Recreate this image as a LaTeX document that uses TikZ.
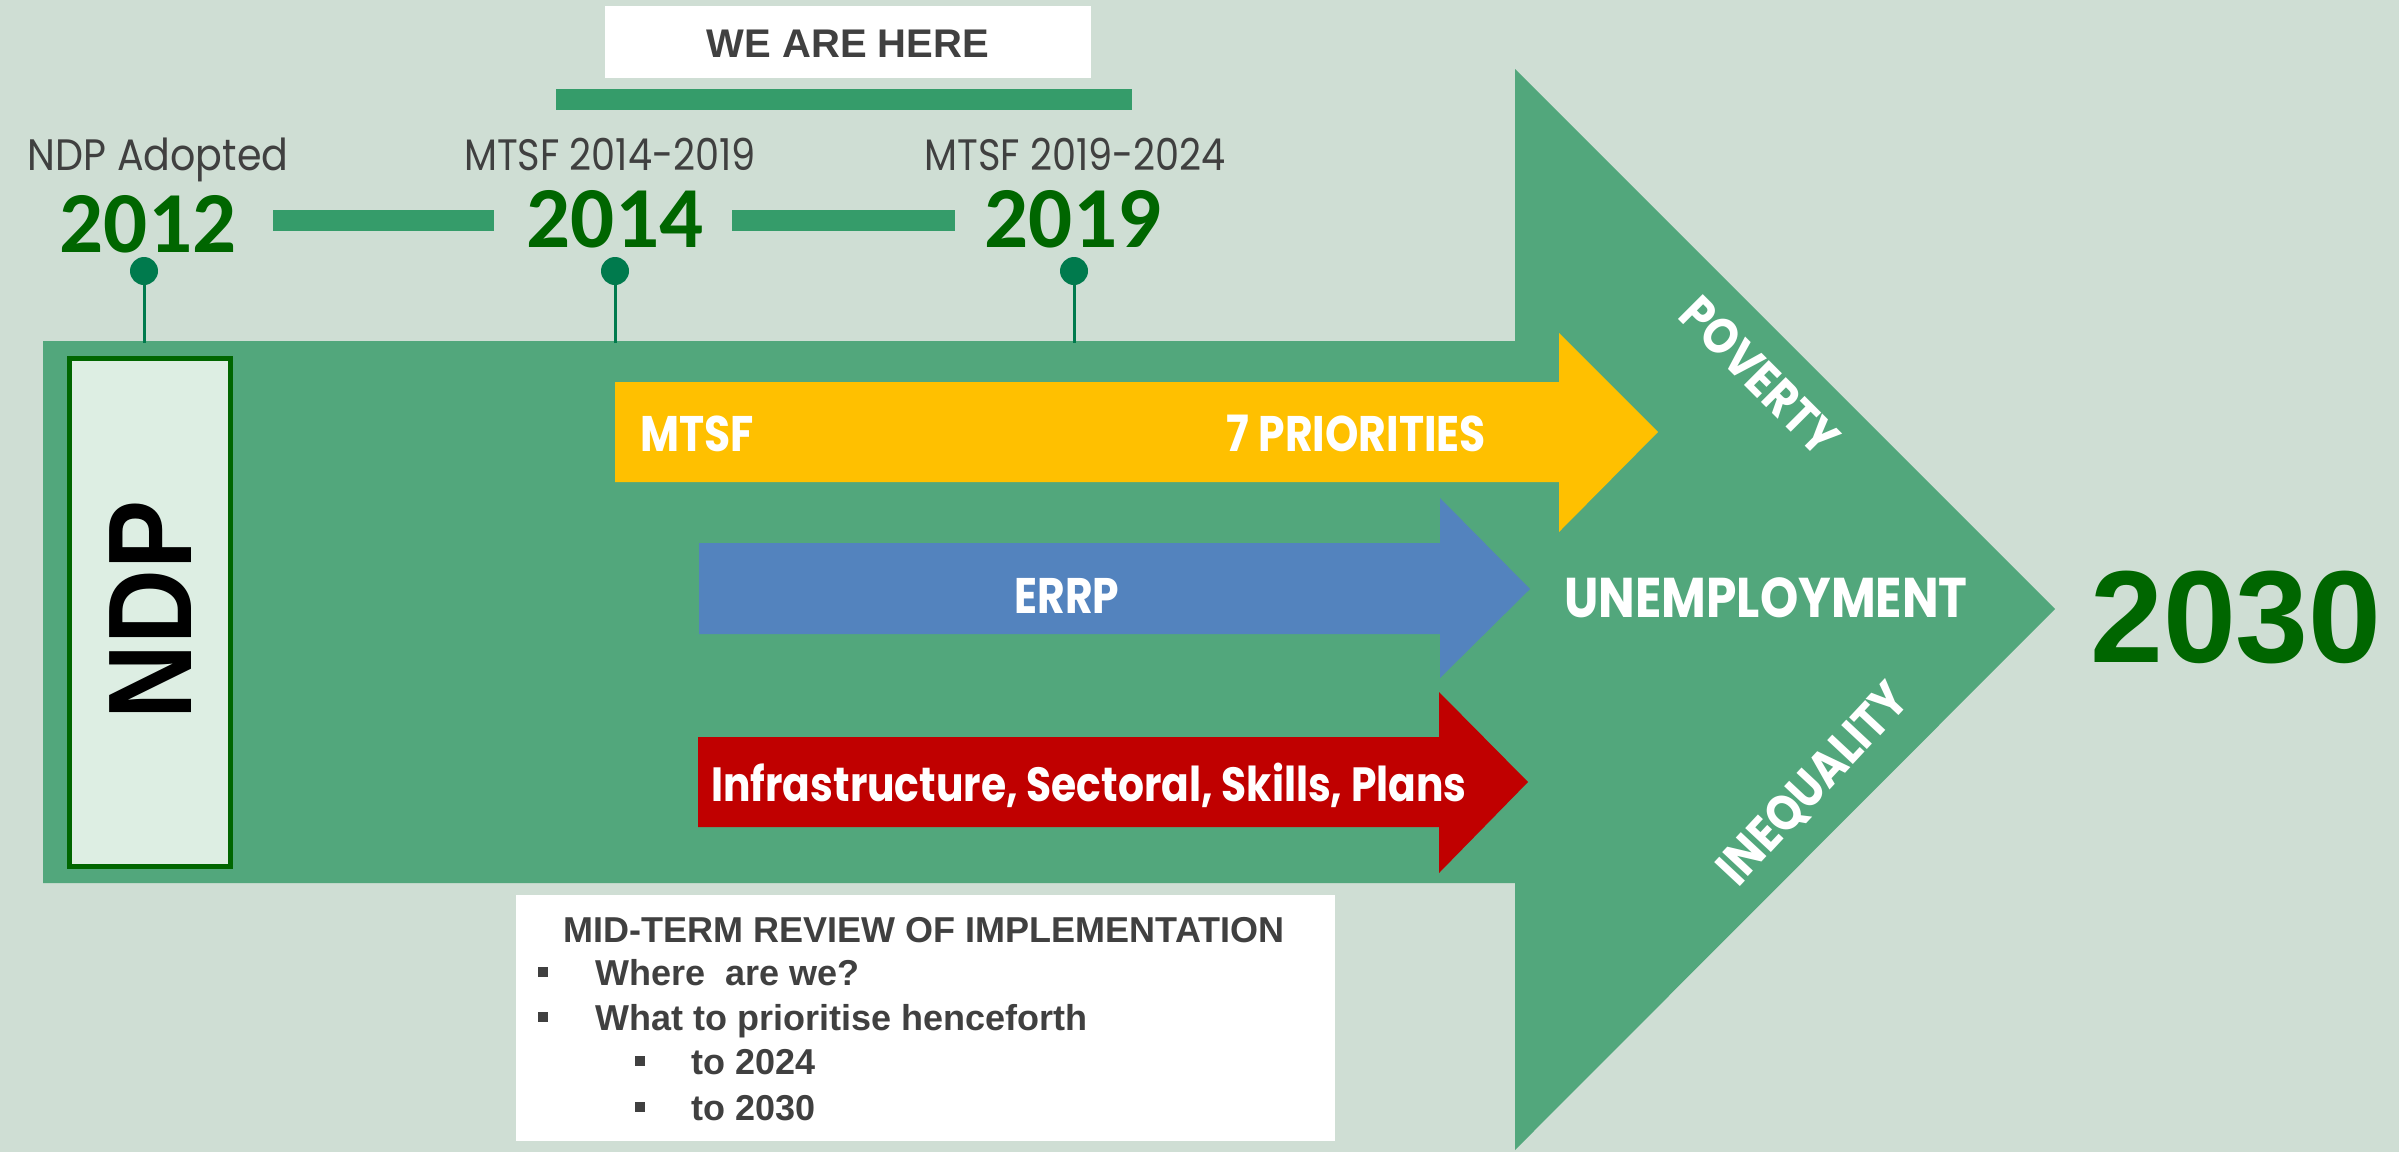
\documentclass[tikz,border=0pt]{standalone}
\usepackage{fontspec}
\setmainfont{Liberation Sans}
\newfontfamily\pop{Poppins}
\newfontfamily\carl{Carlito}
\newcommand\hsq[2]{\scalebox{#1}[1]{#2}}
\newcommand\fs[1]{\fontsize{#1}{#1}\selectfont}
\definecolor{bgc}{HTML}{CFDED4}
\definecolor{arrowgreen}{HTML}{52A77C}
\definecolor{ndpfill}{HTML}{DDEEE3}
\definecolor{darkgreen}{HTML}{006600}
\definecolor{barg}{HTML}{359C6A}
\definecolor{ping}{HTML}{007A4D}
\definecolor{graytext}{HTML}{404040}
\definecolor{yel}{HTML}{FFC000}
\definecolor{blu}{HTML}{5383BE}
\definecolor{rd}{HTML}{C00000}
\tikzset{
  lbl/.style={inner sep=0pt, text=white, font=\pop\bfseries\fs{50}},
  yearlbl/.style={inner sep=0pt, text=darkgreen, font=\carl\bfseries\fs{87}},
  graylbl/.style={inner sep=0pt, text=graytext, font=\pop\fs{44}},
  pin/.style={circle, fill=ping, inner sep=0pt, minimum size=28pt},
  stem/.style={draw=ping, line width=3pt},
  tbar/.style={fill=barg},
  boxtext/.style={inner sep=0pt, text=graytext, font=\bfseries\fs{36}},
  bul/.style={inner sep=0pt, text=graytext}
}
\begin{document}
\begin{tikzpicture}[x=1pt,y=-1pt]
\useasboundingbox (0,0) rectangle (2399,1152);
\fill[bgc] (0,0) rectangle (2399,1152);
% big arrow
\fill[arrowgreen] (43,341) -- (1515,341) -- (1515,69) -- (2055,609) -- (1515,1150) -- (1515,883) -- (43,883) -- cycle;
% NDP box
\node[draw=darkgreen, line width=5pt, fill=ndpfill, minimum width=161pt, minimum height=508pt, inner sep=0pt] (ndpbox) at (150,612) {};
\node[inner sep=0pt, rotate=90, font=\bfseries\fs{119}] (ndp) at (151,610) {\hsq{0.87}{NDP}};
% coloured arrows
\fill[yel] (615,382) -- (1559,382) -- (1559,333) -- (1658,432) -- (1559,532) -- (1559,482) -- (615,482) -- cycle;
\fill[blu] (699,543) -- (1440,543) -- (1440,498) -- (1530,589) -- (1440,678) -- (1440,634) -- (699,634) -- cycle;
\fill[rd] (698,737) -- (1439,737) -- (1439,692) -- (1528,782) -- (1439,873) -- (1439,827) -- (698,827) -- cycle;
\node[lbl, anchor=base west] (mtsf) at (640,451) {\hsq{0.85}{MTSF}};
\node[lbl, anchor=base east] (prio) at (1486,451) {\hsq{0.85}{7 PRIORITIES}};
\node[lbl, anchor=base] (errp) at (1067,613) {\hsq{0.85}{ERRP}};
\node[lbl, anchor=base, font=\pop\bfseries\fs{48}] (infra) at (1089,801) {\hsq{0.85}{Infrastructure, Sectoral, Skills, Plans}};
\node[lbl, anchor=base, font=\pop\bfseries\fs{56}] (unemp) at (1766,617) {\hsq{0.87}{UNEMPLOYMENT}};
\node[lbl, rotate=-45] (pov) at (1760,376) {\hsq{0.87}{POVERTY}};
\node[lbl, rotate=47] (ineq) at (1814,785) {\hsq{0.87}{INEQUALITY}};
\node[inner sep=0pt, anchor=base, text=darkgreen, font=\bfseries\fs{131}] (y2030) at (2236,662) {2030};
% we are here
\node[fill=white, minimum width=486pt, minimum height=72pt, inner sep=0pt] (here) at (848,42) {};
\node[inner sep=0pt, anchor=base, text=graytext, font=\bfseries\fs{40}] (heretxt) at (848,57) {WE ARE HERE};
\fill[tbar] (556,89) rectangle (1132,110);
% timeline
\node[graylbl, anchor=base] (adopt) at (158,170) {\hsq{0.9}{NDP Adopted}};
\node[graylbl, anchor=base] (m1) at (610,170) {\hsq{0.87}{MTSF 2014-2019}};
\node[graylbl, anchor=base] (m2) at (1075,170) {\hsq{0.87}{MTSF 2019-2024}};
\node[yearlbl, anchor=base] (y2012) at (148,252) {2012};
\node[yearlbl, anchor=base] (y2014) at (615,247) {2014};
\node[yearlbl, anchor=base] (y2019) at (1073,247) {2019};
\fill[tbar] (273,210) rectangle (494,231);
\fill[tbar] (732,210) rectangle (955,231);
\node[pin] (p1) at (144,271) {};
\node[pin] (p2) at (615,271) {};
\node[pin] (p3) at (1074,271) {};
\coordinate (b1) at (144,343);
\coordinate (b2) at (615,343);
\coordinate (b3) at (1074,343);
\draw[stem] (p1) -- (b1);
\draw[stem] (p2) -- (b2);
\draw[stem] (p3) -- (b3);
% review box
\node[fill=white, minimum width=819pt, minimum height=246pt, inner sep=0pt] (review) at (925,1018) {};
\node[boxtext, anchor=base] (rtitle) at (924,942) {MID-TERM REVIEW OF IMPLEMENTATION};
\node[bul] (s1) at (543,972) {\rule{10pt}{10pt}};
\node[boxtext, anchor=base west] (l1) at (595,985) {Where\ \ are we?};
\node[bul] (s2) at (543,1017) {\rule{10pt}{10pt}};
\node[boxtext, anchor=base west] (l2) at (595,1030) {What to prioritise henceforth};
\node[bul] (s3) at (640,1061) {\rule{10pt}{10pt}};
\node[boxtext, anchor=base west] (l3) at (691,1074) {to 2024};
\node[bul] (s4) at (640,1107) {\rule{10pt}{10pt}};
\node[boxtext, anchor=base west] (l4) at (691,1120) {to 2030};
\end{tikzpicture}
\end{document}
